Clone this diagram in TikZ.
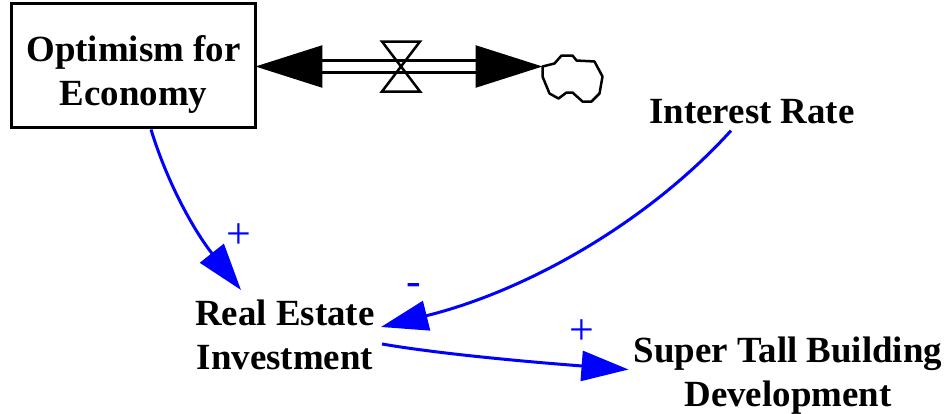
\documentclass[tikz,border=0pt]{standalone}
\usepackage{fontspec}
\setmainfont{Liberation Serif}
\usetikzlibrary{arrows.meta, positioning, calc}
\tikzset{
    stock/.style={rectangle, draw, line width=0.06cm, minimum width=4.9cm,
                  minimum height=2.5cm, inner sep=0pt, align=center, font=\varfont},
    vname/.style={align=center, font=\varfont, inner sep=0pt},
    sign/.style={text=blue, font=\signfont, inner sep=0pt},
    link/.style={-{Triangle[length=0.94cm,width=0.6cm]}, line width=0.06cm, blue},
    flowedge/.style={{Triangle[length=1.34cm,width=0.84cm]}-{Triangle[length=1.34cm,width=0.84cm]},
                     double, double distance=0.19cm, line width=0.05cm},
    valveshape/.style={line width=0.05cm, line join=miter},
    cloudshape/.style={line width=0.05cm, line join=round},
}
\newcommand{\varfont}{\fontsize{21}{25}\selectfont\bfseries}
\newcommand{\signfont}{\fontsize{25}{30}\selectfont}

\begin{document}
\begin{tikzpicture}[x=0.02cm, y=-0.02cm]
    \useasboundingbox (0,0) rectangle (944,413);
    % stock and variables
    \node[stock] (opt) at (133.5,65.5) {\rule{0pt}{25pt}Optimism for\\Economy};
    \node[vname] (rate) at (752,112) {Interest Rate};
    \node[vname] (estate) at (285,335) {Real Estate\\Investment};
    \node[vname] (tall) at (788,375.5) {Super Tall Building\\Development};
    % flow to the cloud
    \coordinate (cloud) at (542.5,66.5);
    \coordinate (valve) at (401,66.5);
    \draw[flowedge] ([xshift=-0.04cm]opt.east |- cloud) -- (cloud);
    \draw[valveshape] (valve) ++(-19,-25) -- ++(38,0) -- ++(-38,50) -- ++(38,0) -- cycle;
    \draw[cloudshape] (cloud) -- ++(12,-3) -- ++(7,-8) -- ++(11,0) -- ++(4,5) -- ++(18,1)
        -- ++(8,15) -- ++(-3,17) -- ++(-8,8) -- ++(-9,0) -- ++(-10,-9) -- ++(-6,0)
        -- ++(-8,6) -- ++(-9,-5) -- ++(-7,-17) -- cycle;
    % links
    \draw[link] ([xshift=0.35cm]opt.south)
        .. controls (168,185) and (195,232) .. (241,290);
    \draw[link] ([shift={(-21,6)}]rate.south)
        .. controls (650,220) and (530,290) .. ([shift={(6,-8)}]estate.east);
    \draw[link] ([shift={(7,9)}]estate.east)
        .. controls (440,354) and (530,362) .. ([shift={(-5,-6)}]tall.west);
    % polarity signs
    \node[sign] (plusa) at (239,236) {+};
    \node[sign] (minus) at (414,290) {-};
    \node[sign] (plusb) at (582,332) {+};
\end{tikzpicture}
\end{document}
